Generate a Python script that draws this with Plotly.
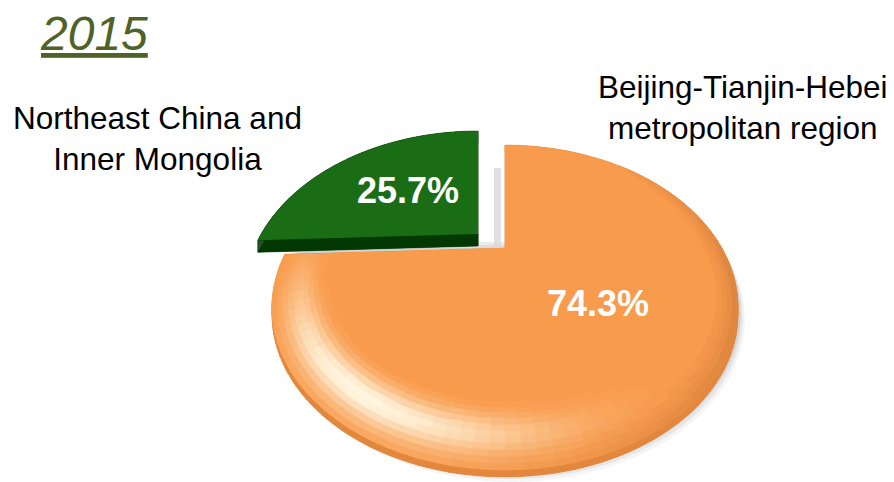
import numpy as np
import plotly.graph_objects as go

# ---------------- data ----------------
categories = ["Beijing-Tianjin-Hebei<br>metropolitan region",
              "Northeast China and<br>Inner Mongolia"]
values = [74.3, 25.7]
colors_top = ["#F89B4C", "#1B6D15"]
colors_side = ["#E3873C", "#033803"]
title_text = "2015"

# ---------------- geometry (pixel space of the 894x482 canvas) ----------------
CX, CY = 505, 248                   # projected pie centre
A, B, P = 216.8, 140.7, 0.366       # horizontal / vertical scale, perspective factor
depths = [7, 12]
explode = [(0, 0), (-27, -14)]


def proj(u, v):
    d = 1 + P * v
    return CX + A * u / d, CY - B * v / d


def sector(a0, a1, r_out=1.0, r_in=0.0, n=200):
    th = np.radians(np.linspace(a0, a1, n))
    uo, vo = r_out * np.cos(th), r_out * np.sin(th)
    if r_in <= 0:
        u = np.concatenate([[0], uo, [0]])
        v = np.concatenate([[0], vo, [0]])
    else:
        ui, vi = r_in * np.cos(th[::-1]), r_in * np.sin(th[::-1])
        u = np.concatenate([uo, ui, uo[:1]])
        v = np.concatenate([vo, vi, vo[:1]])
    return proj(u, v)


def mixc(c1, c2, w):
    return tuple(a + (b - a) * w for a, b in zip(c1, c2))


fig = go.Figure()


def poly(x, y, color, opacity=1.0, lw=0):
    fig.add_trace(go.Scatter(x=list(x), y=list(y), mode="lines", fill="toself",
                             fillcolor=color, line=dict(width=lw, color=color),
                             opacity=opacity, hoverinfo="skip", showlegend=False))


def side(x, y, color, depth):
    xs, ys = [], []
    for i in range(len(x) - 1):
        xs += [x[i], x[i + 1], x[i + 1], x[i], x[i], None]
        ys += [y[i], y[i + 1], y[i + 1] + depth, y[i] + depth, y[i], None]
    poly(xs, ys, color, lw=0.5)
    poly(x, np.asarray(y) + depth, color)


# slice angles (start at 12 o'clock, clockwise)
total = sum(values)
angles = []
start = 90.0
for val in values:
    end = start - 360.0 * val / total
    angles.append((start, end))
    start = end

# soft shadow under the lower part of the pie
sh_x, sh_y = sector(175, 365, n=200)
sh_x, sh_y = sh_x[1:-1], sh_y[1:-1]
for ox, oy, op in [(7, 12, 0.04), (5, 9, 0.06), (3, 6, 0.08)]:
    poly(sh_x + ox, sh_y + oy, "rgb(0,0,0)", op)

# faint shade on the cut face between the slices
gx0 = CX + explode[1][0]
poly([gx0 + 16, gx0 + 23, gx0 + 23, gx0 + 16],
     [CY - 80, CY - 80, CY - 2, CY - 2], "rgb(216,216,216)", 0.8)

# draw green (farther) first, then orange
for i in [1, 0]:
    a0, a1 = angles[i]
    ox, oy = explode[i]
    x, y = sector(a0, a1)
    x, y = x + ox, y + oy
    side(x, y, colors_side[i], depths[i])
    poly(x, y, colors_top[i])

# bevel / highlight on the orange rim (grouped by quantised colour)
base = (248, 155, 76)
hi = (255, 252, 234)
dk = (205, 120, 55)
a0, a1 = angles[0]
step = -3.0
radii = [1.0, 0.98, 0.96, 0.94, 0.92, 0.90, 0.88, 0.86, 0.84, 0.82, 0.80, 0.78]
w_hi = [0.15, 0.3, 0.5, 0.75, 0.95, 1.0, 0.9, 0.65, 0.4, 0.2, 0.08]
w_dk = [1.0, 0.65, 0.4, 0.2, 0.08, 0, 0, 0, 0, 0, 0]
th_edges = np.arange(a0, a1 + step / 2, step)
groups = {}
for k in range(len(radii) - 1):
    ro, ri = radii[k], radii[k + 1]
    for t0, t1 in zip(th_edges[:-1], th_edges[1:]):
        tm = np.radians((t0 + t1) / 2)
        h = max(0.0, np.cos(tm - np.radians(237))) ** 4 * 0.95 * w_hi[k]
        d = max(0.0, np.cos(tm - np.radians(-20))) ** 2 * 0.6 * w_dk[k]
        c = mixc(base, hi, h)
        c = mixc(c, dk, d)
        c = tuple(int(round(q / 3.0) * 3) for q in c)
        if max(abs(c[j] - base[j]) for j in range(3)) < 3:
            continue
        col = "rgb(%d,%d,%d)" % tuple(min(255, q) for q in c)
        x, y = sector(t0, t1, ro, ri, n=4)
        g = groups.setdefault(col, ([], []))
        g[0].extend(list(x) + [None])
        g[1].extend(list(y) + [None])
for col, (gx, gy) in groups.items():
    poly(gx, gy, col, lw=0.8)

# ---------------- text ----------------
label_font = dict(family="Liberation Sans, Arial", size=31.5, color="black")
pct_font = dict(family="Liberation Sans, Arial", size=36, color="white", weight="bold")

annotations = [
    dict(x=742, y=107, text=categories[0], showarrow=False, font=label_font,
         xanchor="center", yanchor="middle", align="center"),
    dict(x=157, y=138, text=categories[1], showarrow=False, font=label_font,
         xanchor="center", yanchor="middle", align="center"),
    dict(x=598, y=303, text=f"{values[0]:.1f}%", showarrow=False, font=pct_font,
         xanchor="center", yanchor="middle"),
    dict(x=408, y=190, text=f"{values[1]:.1f}%", showarrow=False, font=pct_font,
         xanchor="center", yanchor="middle"),
    dict(x=38, y=33, text=title_text, showarrow=False,
         font=dict(family="Liberation Sans, Arial", size=48, color="#4F6228",
                   style="italic", lineposition="under"),
         xanchor="left", yanchor="middle"),
]

fig.update_layout(
    width=894, height=482,
    margin=dict(l=0, r=0, t=0, b=0),
    paper_bgcolor="white", plot_bgcolor="white",
    xaxis=dict(range=[0, 894], visible=False, fixedrange=True),
    yaxis=dict(range=[482, 0], visible=False, fixedrange=True),
    annotations=annotations,
    showlegend=False,
)

fig.write_html("out.html")
